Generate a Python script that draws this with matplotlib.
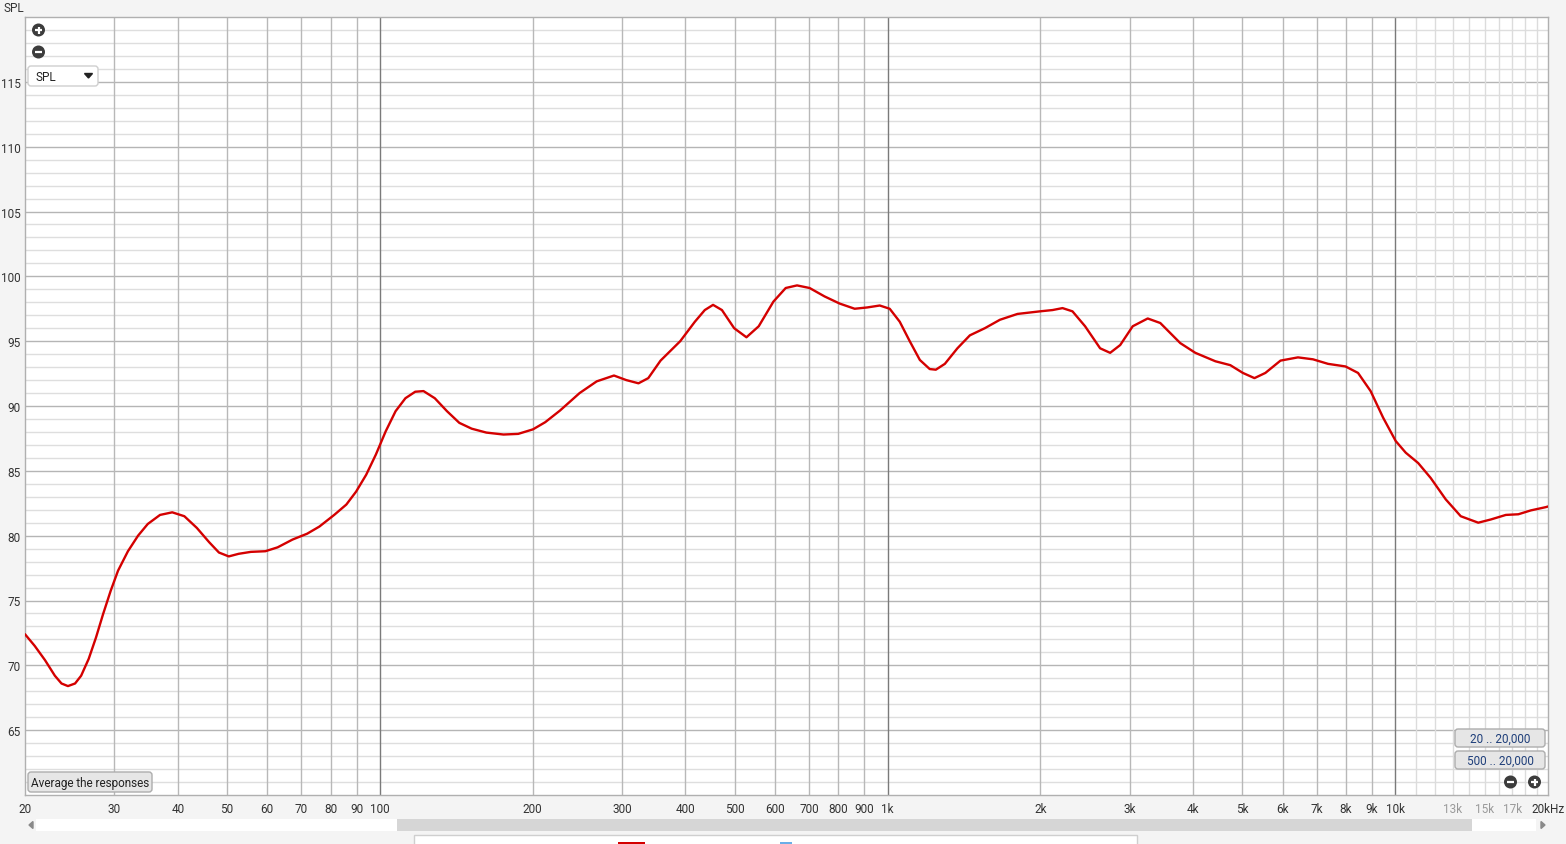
import matplotlib
matplotlib.use("Agg")
import numpy as np
import matplotlib.pyplot as plt
from matplotlib.patches import FancyBboxPatch, Rectangle, Circle

plt.rcParams['font.family'] = ['Roboto', 'DejaVu Sans']

# ------------------------------------------------------------
# DATA (read off the reference response)
# ------------------------------------------------------------
freq_hz = [20, 20.9, 21.9, 22.9, 23.6, 24.3, 25.1, 25.8, 26.7, 27.6,
           28.5, 29.5, 30.5, 31.9, 33.4, 34.9, 36.9, 39.0, 41.2, 43.6,
           46.1, 48.2, 50.4, 52.7, 55.7, 59.5, 62.9, 67.3, 71.9, 76.0,
           81.3, 85.9, 89.8, 94.0, 98.2, 102.7, 107.4, 112.3, 117.4, 121.9,
           128.3, 135.6, 143.4, 151.7, 162.1, 175.2, 187.3, 200.3, 211.7, 226.4,
           247.5, 267.4, 289.2, 305.7, 323.2, 337.9, 357.2, 390.6, 417.4, 436.6,
           453.3, 471.9, 498.8, 527.4, 557.6, 596.0, 630.2, 663.4, 702.3, 751.7,
           804.9, 861.6, 911.9, 965.5, 1010, 1057, 1106, 1158, 1211, 1245,
           1297, 1373, 1453, 1555, 1665, 1803, 1997, 2114, 2212, 2314,
           2450, 2623, 2745, 2873, 3041, 3255, 3446, 3773, 4040, 4424,
           4734, 5012, 5282, 5550, 5944, 6434, 6888, 7375, 7983, 8450,
           8946, 9468, 10024, 10490, 11100, 11748, 12577, 13464, 14576, 15436,
           16520, 17482, 18506, 19800, 20000]
spl_db = [72.4, 71.5, 70.4, 69.2, 68.6, 68.4, 68.6, 69.2, 70.5, 72.15,
          73.95, 75.75, 77.3, 78.8, 80.0, 80.9, 81.6, 81.8, 81.5, 80.6,
          79.5, 78.7, 78.4, 78.6, 78.75, 78.8, 79.1, 79.7, 80.15, 80.7,
          81.6, 82.4, 83.4, 84.7, 86.25, 88.05, 89.6, 90.6, 91.1, 91.15,
          90.6, 89.6, 88.7, 88.25, 87.95, 87.8, 87.85, 88.2, 88.75, 89.65,
          91.0, 91.9, 92.35, 92.0, 91.75, 92.15, 93.5, 95.0, 96.5, 97.4,
          97.8, 97.4, 96.0, 95.3, 96.15, 98.05, 99.1, 99.3, 99.1, 98.45,
          97.9, 97.5, 97.6, 97.75, 97.5, 96.5, 95.0, 93.55, 92.85, 92.8,
          93.25, 94.45, 95.45, 96.0, 96.65, 97.1, 97.3, 97.4, 97.55, 97.3,
          96.15, 94.45, 94.1, 94.7, 96.15, 96.75, 96.4, 94.85, 94.1, 93.45,
          93.15, 92.55, 92.15, 92.55, 93.5, 93.75, 93.6, 93.25, 93.05, 92.55,
          91.15, 89.1, 87.3, 86.4, 85.6, 84.45, 82.8, 81.5, 81.0, 81.25,
          81.6, 81.65, 81.95, 82.2, 82.25]

x_tick_vals = [20, 30, 40, 50, 60, 70, 80, 90, 100, 200, 300, 400, 500, 600,
               700, 800, 900, 1000, 2000, 3000, 4000, 5000, 6000, 7000, 8000,
               9000, 10000, 13000, 15000, 17000, 20000]
x_tick_labels = ['20', '30', '40', '50', '60', '70', '80', '90', '100', '200',
                 '300', '400', '500', '600', '700', '800', '900', '1k', '2k',
                 '3k', '4k', '5k', '6k', '7k', '8k', '9k', '10k', '13k', '15k',
                 '17k', '20kHz']
y_tick_vals = [65, 70, 75, 80, 85, 90, 95, 100, 105, 110, 115]

W, H = 1566, 845
fig = plt.figure(figsize=(W / 100, H / 100), dpi=100, facecolor='#f4f4f4')
ax = fig.add_axes([25 / W, (H - 796) / H, 1523 / W, 778 / H])
ax.set_facecolor('white')
ax.set_xscale('log')
ax.set_xlim(20, 20000)
ax.set_ylim(60, 120)

# grid: 1 dB light, 5 dB darker
for v in range(61, 120):
    ax.axhline(v, color='#b5b5b5' if v % 5 == 0 else '#dedede', lw=1.0, zorder=1)

# vertical grid
for dec in [10, 100, 1000, 10000]:
    for m in range(1, 10):
        f = dec * m
        if f <= 20 or f >= 20000:
            continue
        if m == 1:
            ax.axvline(f, color='#7a7a7a', lw=1.0, zorder=2)
        else:
            ax.axvline(f, color='#b8b8b8', lw=1.0, zorder=1.5)
for f in range(11000, 20000, 1000):
    ax.axvline(f, color='#dcdcdc', lw=1.0, zorder=1.2)

ax.plot(freq_hz, spl_db, color='#d40000', lw=1.7, zorder=5,
        solid_joinstyle='round', solid_capstyle='round')

ax.set_xticks(x_tick_vals)
ax.set_xticklabels(x_tick_labels)
ax.xaxis.set_minor_locator(matplotlib.ticker.NullLocator())
ax.set_yticks(y_tick_vals)
ax.tick_params(axis='both', length=0, labelsize=8.5, colors='#333333')
ax.tick_params(axis='x', pad=5)
ax.tick_params(axis='y', pad=3)
for lbl in ax.get_xticklabels():
    if lbl.get_text() in ('13k', '15k', '17k'):
        lbl.set_color('#9a9a9a')
for s in ax.spines.values():
    s.set_color('#b0b0b0')
    s.set_linewidth(1.0)

# ------------------------------------------------------------
# UI decorations (pixel coordinates overlay)
# ------------------------------------------------------------
ui = fig.add_axes([0, 0, 1, 1], zorder=10)
ui.set_xlim(0, W)
ui.set_ylim(H, 0)
ui.axis('off')

ui.text(4, 8, 'SPL', fontsize=8.5, color='#333333', va='center', ha='left')


def icon(x, y, sign):
    ui.add_patch(Circle((x, y), 6.5, facecolor='#3c3c3c', edgecolor='none'))
    ui.plot([x - 3.5, x + 3.5], [y, y], color='white', lw=1.6, solid_capstyle='butt')
    if sign == '+':
        ui.plot([x, x], [y - 3.5, y + 3.5], color='white', lw=1.6, solid_capstyle='butt')


icon(38.5, 31, '+')
icon(38.5, 53, '-')
icon(1510.5, 783, '-')
icon(1534.5, 783, '+')

# SPL drop-down
ui.add_patch(FancyBboxPatch((28, 67), 70, 20, boxstyle='round,pad=0,rounding_size=3',
                            facecolor='white', edgecolor='#cfcfcf', lw=1))
ui.text(35, 77.5, 'SPL', fontsize=8.5, color='#222222', va='center', ha='left')
ui.fill([84.5, 92.5, 88.5], [74.5, 74.5, 79], color='#222222')


# buttons
def button(x0, y0, w, h, label, color):
    ui.add_patch(FancyBboxPatch((x0, y0), w, h, boxstyle='round,pad=0,rounding_size=3',
                                facecolor='#e6e6e6', edgecolor='#adadad', lw=1))
    ui.text(x0 + w / 2, y0 + h / 2 + 0.5, label, fontsize=8.5, color=color,
            va='center', ha='center')


button(28, 773, 124, 20, 'Average the responses', '#222222')
button(1455, 730, 90, 18, '20 .. 20,000', '#1f3f7a')
button(1455, 752, 90, 18, '500 .. 20,000', '#1f3f7a')

# scrollbar
ui.add_patch(Rectangle((36, 820), 1500, 12, facecolor='white', edgecolor='none'))
ui.add_patch(Rectangle((397, 820), 1075, 12, facecolor='#d6d6d6', edgecolor='none'))
ui.fill([29, 33, 33], [826, 822.5, 829.5], color='#8a8a8a')
ui.fill([1545, 1541, 1541], [826, 822.5, 829.5], color='#8a8a8a')

# legend strip at the bottom edge
ui.add_patch(Rectangle((414, 836), 723, 12, facecolor='white', edgecolor='#cfcfcf', lw=1))
ui.add_patch(Rectangle((618, 843), 27, 4, facecolor='#d40000', edgecolor='none'))
ui.add_patch(Rectangle((780, 843), 12, 4, facecolor='#6aaee8', edgecolor='none'))

fig.savefig('out.png', dpi=100, facecolor=fig.get_facecolor())
